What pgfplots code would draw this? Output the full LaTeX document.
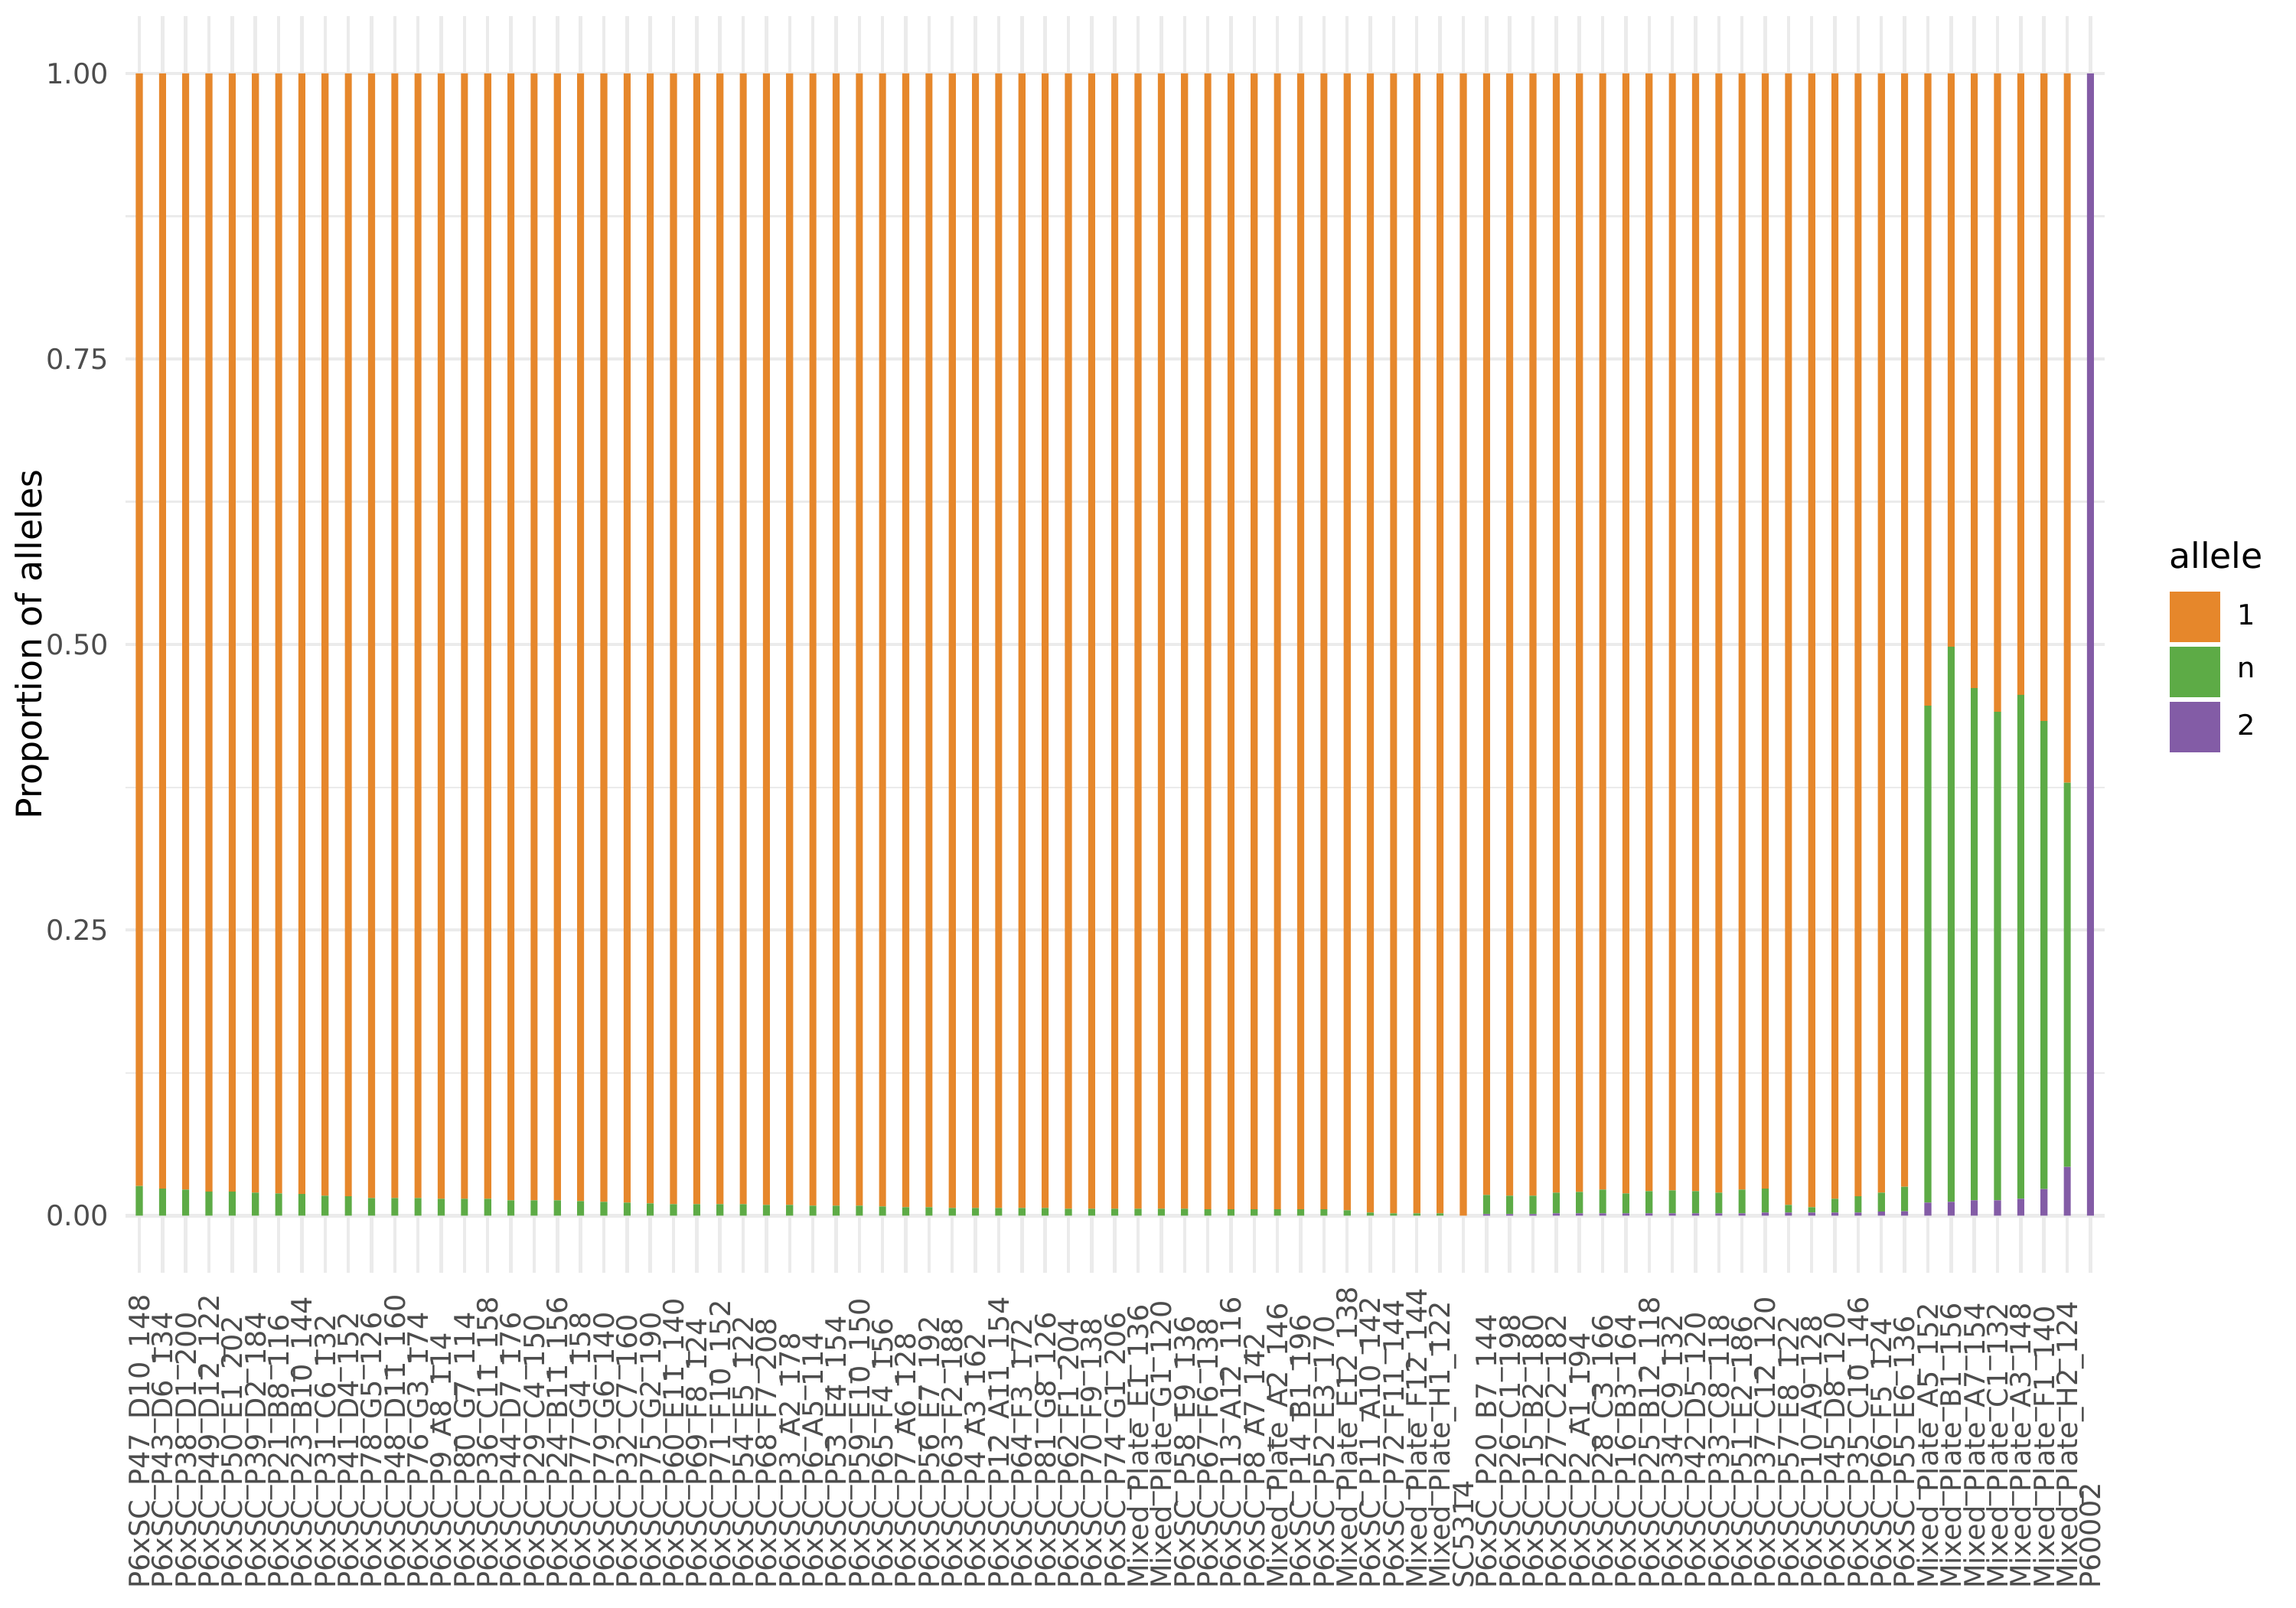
\documentclass[border=0pt]{standalone}
\usepackage{fontspec}
\setmainfont{DejaVu Sans}
\usepackage{pgfplots}
\usepackage{pgfplotstable}
\pgfplotsset{compat=1.18}
\definecolor{cOne}{RGB}{230,135,43}
\definecolor{cN}{RGB}{93,171,70}
\definecolor{cTwo}{RGB}{131,92,166}
\definecolor{gridc}{RGB}{235,235,235}
\definecolor{txtc}{RGB}{77,77,77}

\pgfplotstableread{
x two n one
0 0 0.026 0.974
1 0 0.0235 0.9765
2 0 0.0228 0.9772
3 0 0.021 0.979
4 0 0.021 0.979
5 0 0.020 0.980
6 0 0.0194 0.9806
7 0 0.0188 0.9812
8 0 0.0174 0.9826
9 0 0.0168 0.9832
10 0 0.0154 0.9846
11 0 0.0154 0.9846
12 0 0.0154 0.9846
13 0 0.0147 0.9853
14 0 0.0147 0.9853
15 0 0.0147 0.9853
16 0 0.0134 0.9866
17 0 0.0134 0.9866
18 0 0.0134 0.9866
19 0 0.0127 0.9873
20 0 0.012 0.988
21 0 0.0114 0.9886
22 0 0.0107 0.9893
23 0 0.010 0.990
24 0 0.010 0.990
25 0 0.010 0.990
26 0 0.010 0.990
27 0 0.0094 0.9906
28 0 0.0094 0.9906
29 0 0.0087 0.9913
30 0 0.0087 0.9913
31 0 0.0087 0.9913
32 0 0.008 0.992
33 0 0.0074 0.9926
34 0 0.0074 0.9926
35 0 0.0067 0.9933
36 0 0.0067 0.9933
37 0 0.0067 0.9933
38 0 0.0067 0.9933
39 0 0.0067 0.9933
40 0 0.006 0.994
41 0 0.006 0.994
42 0 0.006 0.994
43 0 0.006 0.994
44 0 0.006 0.994
45 0 0.006 0.994
46 0 0.0054 0.9946
47 0 0.0054 0.9946
48 0 0.0054 0.9946
49 0 0.0054 0.9946
50 0 0.0054 0.9946
51 0 0.0054 0.9946
52 0 0.0047 0.9953
53 0 0.0027 0.9973
54 0 0.002 0.998
55 0 0.002 0.998
56 0 0.002 0.998
57 0 0 1
58 0.0013 0.0167 0.982
59 0.0013 0.0161 0.9826
60 0.0013 0.0161 0.9826
61 0.002 0.018 0.980
62 0.002 0.0188 0.9792
63 0.002 0.0208 0.9772
64 0.002 0.0174 0.9806
65 0.002 0.0194 0.9786
66 0.002 0.0201 0.9779
67 0.002 0.0194 0.9786
68 0.002 0.018 0.980
69 0.002 0.0208 0.9772
70 0.0027 0.0208 0.9765
71 0.0027 0.0067 0.9906
72 0.0027 0.0047 0.9926
73 0.0027 0.012 0.9853
74 0.0027 0.0141 0.9832
75 0.0034 0.0166 0.980
76 0.0038 0.0215 0.9747
77 0.0113 0.4351 0.5536
78 0.012 0.486 0.502
79 0.0133 0.4484 0.5383
80 0.0133 0.4277 0.559
81 0.0147 0.4413 0.544
82 0.0232 0.4098 0.567
83 0.0427 0.3363 0.621
84 1 0 0
}\data

\pgfplotsset{
  keysq/.style={legend image code/.code={\fill[##1] (0pt,-7.92pt) rectangle (15.84pt,7.92pt);}},
}

\begin{document}
\begin{tikzpicture}
\path[use as bounding box] (0pt,0pt) rectangle (720pt,504pt);
\begin{axis}[
  at={(39.3pt,104.9pt)}, anchor=south west,
  scale only axis, width=620.6pt, height=394pt,
  xmin=-0.6, xmax=84.6, ymin=-0.05, ymax=1.05,
  ybar stacked, bar width=0.3,
  xtick={0,...,84},
  xticklabels={P6xSC\_P47\_D10\_148, P6xSC\_P43\_D6\_134, P6xSC\_P38\_D1\_200, P6xSC\_P49\_D12\_122, P6xSC\_P50\_E1\_202, P6xSC\_P39\_D2\_184, P6xSC\_P21\_B8\_116, P6xSC\_P23\_B10\_144, P6xSC\_P31\_C6\_132, P6xSC\_P41\_D4\_152, P6xSC\_P78\_G5\_126, P6xSC\_P48\_D11\_160, P6xSC\_P76\_G3\_174, P6xSC\_P9\_A8\_114, P6xSC\_P80\_G7\_114, P6xSC\_P36\_C11\_158, P6xSC\_P44\_D7\_176, P6xSC\_P29\_C4\_150, P6xSC\_P24\_B11\_156, P6xSC\_P77\_G4\_158, P6xSC\_P79\_G6\_140, P6xSC\_P32\_C7\_160, P6xSC\_P75\_G2\_190, P6xSC\_P60\_E11\_140, P6xSC\_P69\_F8\_124, P6xSC\_P71\_F10\_152, P6xSC\_P54\_E5\_122, P6xSC\_P68\_F7\_208, P6xSC\_P3\_A2\_178, P6xSC\_P6\_A5\_114, P6xSC\_P53\_E4\_154, P6xSC\_P59\_E10\_150, P6xSC\_P65\_F4\_156, P6xSC\_P7\_A6\_128, P6xSC\_P56\_E7\_192, P6xSC\_P63\_F2\_188, P6xSC\_P4\_A3\_162, P6xSC\_P12\_A11\_154, P6xSC\_P64\_F3\_172, P6xSC\_P81\_G8\_126, P6xSC\_P62\_F1\_204, P6xSC\_P70\_F9\_138, P6xSC\_P74\_G1\_206, Mixed\_Plate\_E1\_136, Mixed\_Plate\_G1\_120, P6xSC\_P58\_E9\_136, P6xSC\_P67\_F6\_138, P6xSC\_P13\_A12\_116, P6xSC\_P8\_A7\_142, Mixed\_Plate\_A2\_146, P6xSC\_P14\_B1\_196, P6xSC\_P52\_E3\_170, Mixed\_Plate\_E12\_138, P6xSC\_P11\_A10\_142, P6xSC\_P72\_F11\_144, Mixed\_Plate\_F12\_144, Mixed\_Plate\_H1\_122, SC5314, P6xSC\_P20\_B7\_144, P6xSC\_P26\_C1\_198, P6xSC\_P15\_B2\_180, P6xSC\_P27\_C2\_182, P6xSC\_P2\_A1\_194, P6xSC\_P28\_C3\_166, P6xSC\_P16\_B3\_164, P6xSC\_P25\_B12\_118, P6xSC\_P34\_C9\_132, P6xSC\_P42\_D5\_120, P6xSC\_P33\_C8\_118, P6xSC\_P51\_E2\_186, P6xSC\_P37\_C12\_120, P6xSC\_P57\_E8\_122, P6xSC\_P10\_A9\_128, P6xSC\_P45\_D8\_120, P6xSC\_P35\_C10\_146, P6xSC\_P66\_F5\_124, P6xSC\_P55\_E6\_136, Mixed\_Plate\_A5\_152, Mixed\_Plate\_B1\_156, Mixed\_Plate\_A7\_154, Mixed\_Plate\_C1\_132, Mixed\_Plate\_A3\_148, Mixed\_Plate\_F1\_140, Mixed\_Plate\_H2\_124, P60002},
  ytick={0,0.25,0.5,0.75,1},
  yticklabels={0.00,0.25,0.50,0.75,1.00},
  minor ytick={0.125,0.375,0.625,0.875},
  xmajorgrids, ymajorgrids, yminorgrids,
  major grid style={gridc, line width=1.07pt},
  minor grid style={gridc, line width=0.53pt},
  axis line style={draw=none},
  major tick length=0pt, minor tick length=0pt,
  tick style={draw=none},
  ticklabel style={font=\fontsize{8.8}{10.56}\selectfont, text=txtc},
  xticklabel style={rotate=90, anchor=west, inner sep=0pt, text height=6.42pt, text depth=0pt},
  yticklabel style={anchor=east, inner sep=0pt},
  xticklabel shift=99.3pt, yticklabel shift=5pt,
  ylabel={Proportion of alleles},
  every axis y label/.style={at={(axis description cs:-0.0472,0.5)}, rotate=90, anchor=center, inner sep=0pt, font=\fontsize{11}{13.2}\selectfont},
  legend style={at={(axis description cs:1.0327,0.5426)}, anchor=north west, draw=none, fill=none, inner sep=0pt, row sep=1.44pt, column sep=5.5pt, font=\fontsize{8.8}{10.56}\selectfont, nodes={inner sep=0pt}},
  legend cell align=left, reverse legend,
]
\addplot+[keysq, fill=cTwo, draw=none] table[x=x, y=two] {\data};
\addlegendentry{2}
\addplot+[keysq, fill=cN, draw=none] table[x=x, y=n] {\data};
\addlegendentry{n}
\addplot+[keysq, fill=cOne, draw=none] table[x=x, y=one] {\data};
\addlegendentry{1}
\end{axis}
\node[anchor=base west, inner sep=0pt, font=\fontsize{11}{13.2}\selectfont] at (680pt,325.9pt) {allele};
\end{tikzpicture}
\end{document}
